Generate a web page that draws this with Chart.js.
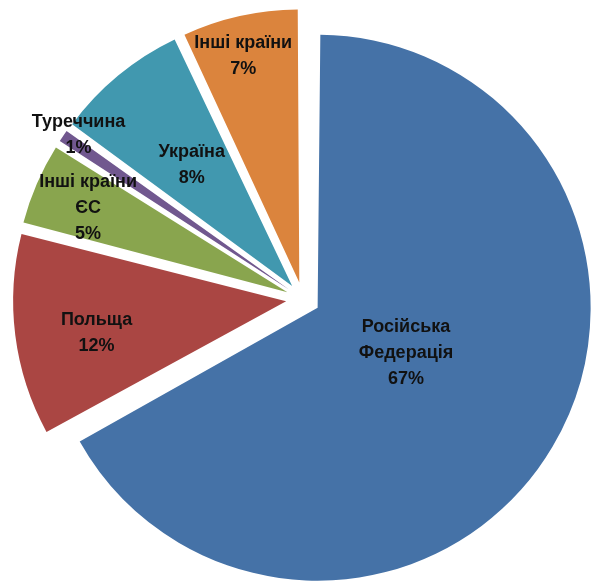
<!DOCTYPE html>
<html>
<head>
<meta charset="utf-8">
<script src="https://cdn.jsdelivr.net/npm/chart.js@4"></script>
<style>
  html, body { margin: 0; padding: 0; background: #fff; }
  #wrap { width: 593px; height: 584px; }
</style>
</head>
<body>
<div id="wrap"><canvas id="myChart" width="593" height="584"></canvas></div>
<script>
// Data for the pie
let labels = [
  ["Російська", "Федерація"],
  ["Польща"],
  ["Інші країни", "ЄС"],
  ["Туреччина"],
  ["Україна"],
  ["Інші країни"]
];
let shares = [67, 12, 5, 1, 8, 7];
let colors = ["#4572A7", "#AA4643", "#89A54E", "#71588F", "#4198AF", "#DB843D"];

// where the label sits on each slice: fraction of radius, and a small turn off the bisector (deg)
let labelDist = [0.364, 0.704, 0.792, 0.955, 0.575, 0.855];
let labelTurn = [-3.4, -2.3, -0.6, 2.0, -0.2, -1.3];

let pieRadius = 273;
// explode distance in px (chart.js divides arc offset by 4)
let explode = 17;

// chart.js also grows the radius of an offset arc, undo that so all slices keep the same size
let keepRadius = {
  id: "keepRadius",
  afterDatasetsUpdate(chart) {
    let meta = chart.getDatasetMeta(0);
    meta.data.forEach(function (arc) {
      let circ = arc.endAngle - arc.startAngle;
      let fix = 1 - Math.sin(Math.min(Math.PI, circ));
      arc.outerRadius = pieRadius - explode * fix;
    });
  }
};

// draws the slice labels in the Excel style
let sliceLabels = {
  id: "sliceLabels",
  afterDatasetsDraw(chart) {
    let ctx = chart.ctx;
    let meta = chart.getDatasetMeta(0);
    ctx.save();
    ctx.fillStyle = "#111";
    ctx.font = "bold 18px 'Liberation Sans', Arial, sans-serif";
    ctx.textAlign = "center";
    ctx.textBaseline = "middle";
    meta.data.forEach(function (arc, i) {
      let mid = (arc.startAngle + arc.endAngle) / 2;
      let cx = arc.x + Math.cos(mid) * explode;
      let cy = arc.y + Math.sin(mid) * explode;
      let a = mid + labelTurn[i] * Math.PI / 180;
      let r = pieRadius * labelDist[i];
      let x = cx + Math.cos(a) * r;
      let y = cy + Math.sin(a) * r;
      let lines = labels[i].concat([shares[i] + "%"]);
      let lh = 26;
      let top = y - (lines.length - 1) * lh / 2;
      lines.forEach(function (t, k) {
        ctx.fillText(t, x, top + k * lh);
      });
    });
    ctx.restore();
  }
};

let ctx = document.getElementById("myChart").getContext("2d");

let myChart = new Chart(ctx, {
  type: "pie",
  data: {
    labels: labels.map(l => l.join(" ")),
    datasets: [{
      data: shares,
      backgroundColor: colors,
      borderWidth: 0,
      offset: explode * 4,
      radius: pieRadius,
      clip: false
    }]
  },
  options: {
    responsive: false,
    animation: false,
    layout: { padding: { left: 13, right: 0, top: 14, bottom: 0 } },
    plugins: {
      legend: { display: false },
      tooltip: { enabled: false }
    }
  },
  plugins: [keepRadius, sliceLabels]
});
</script>
</body>
</html>
